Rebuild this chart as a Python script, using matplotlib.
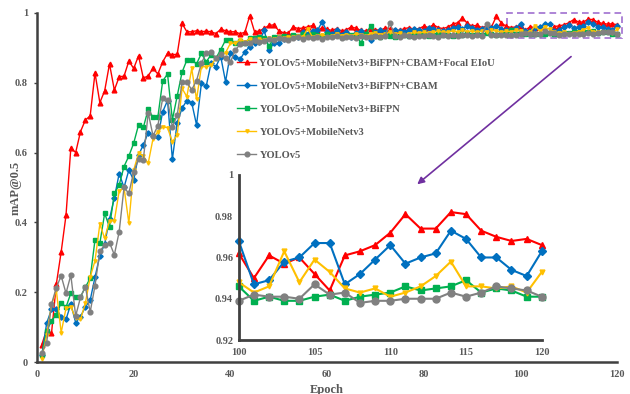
import numpy as np
from matplotlib import pyplot as plt
from matplotlib.patches import Rectangle

# -----------------
# Data
# -----------------
epochs = np.arange(1, 121)

labels = ['YOLOv5+MobileNetv3+BiFPN+CBAM+Focal EIoU',
          'YOLOv5+MobileNetv3+BiFPN+CBAM',
          'YOLOv5+MobileNetv3+BiFPN',
          'YOLOv5+MobileNetv3',
          'YOLOv5']

map_focal = [0.050, 0.092, 0.082, 0.223, 0.315, 0.420, 0.613, 0.600, 0.660, 0.693,
             0.705, 0.828, 0.743, 0.777, 0.854, 0.779, 0.817, 0.819, 0.862, 0.841,
             0.877, 0.813, 0.820, 0.841, 0.825, 0.860, 0.884, 0.880, 0.882, 0.970,
             0.946, 0.946, 0.949, 0.946, 0.948, 0.946, 0.941, 0.953, 0.949, 0.946,
             0.946, 0.940, 0.945, 0.992, 0.946, 0.948, 0.956, 0.964, 0.966, 0.949,
             0.943, 0.943, 0.960, 0.955, 0.957, 0.960, 0.964, 0.950, 0.958, 0.953,
             0.950, 0.955, 0.948, 0.952, 0.960, 0.956, 0.950, 0.948, 0.955, 0.952,
             0.950, 0.957, 0.955, 0.952, 0.950, 0.955, 0.958, 0.953, 0.955, 0.962,
             0.958, 0.966, 0.958, 0.955, 0.960, 0.968, 0.972, 0.986, 0.970, 0.962,
             0.965, 0.958, 0.962, 0.960, 0.990, 0.972, 0.962, 0.958, 0.960, 0.962,
             0.950, 0.961, 0.957, 0.960, 0.952, 0.944, 0.961, 0.963, 0.966, 0.972,
             0.981, 0.974, 0.974, 0.982, 0.981, 0.973, 0.970, 0.968, 0.969, 0.966]

map_cbam = [0.020, 0.111, 0.151, 0.152, 0.130, 0.122, 0.166, 0.113, 0.130, 0.158,
            0.177, 0.243, 0.305, 0.338, 0.410, 0.470, 0.540, 0.500, 0.550, 0.521,
            0.593, 0.622, 0.657, 0.646, 0.644, 0.717, 0.749, 0.581, 0.686, 0.727,
            0.749, 0.743, 0.679, 0.798, 0.790, 0.856, 0.846, 0.875, 0.803, 0.884,
            0.875, 0.867, 0.889, 0.903, 0.913, 0.918, 0.950, 0.895, 0.913, 0.915,
            0.925, 0.930, 0.935, 0.932, 0.945, 0.940, 0.948, 0.950, 0.975, 0.945,
            0.940, 0.950, 0.938, 0.945, 0.930, 0.942, 0.948, 0.938, 0.922, 0.945,
            0.950, 0.946, 0.940, 0.952, 0.948, 0.944, 0.950, 0.955, 0.952, 0.948,
            0.958, 0.955, 0.950, 0.948, 0.952, 0.958, 0.960, 0.955, 0.962, 0.958,
            0.952, 0.955, 0.960, 0.958, 0.962, 0.955, 0.950, 0.952, 0.958, 0.968,
            0.947, 0.949, 0.958, 0.960, 0.967, 0.967, 0.947, 0.952, 0.959, 0.966,
            0.957, 0.960, 0.962, 0.973, 0.969, 0.960, 0.960, 0.954, 0.951, 0.963]

map_bifpn = [0.020, 0.089, 0.118, 0.135, 0.170, 0.157, 0.197, 0.187, 0.187, 0.214,
             0.240, 0.350, 0.340, 0.426, 0.386, 0.483, 0.507, 0.560, 0.590, 0.627,
             0.679, 0.672, 0.724, 0.701, 0.702, 0.805, 0.825, 0.694, 0.762, 0.830,
             0.865, 0.865, 0.854, 0.884, 0.860, 0.880, 0.870, 0.895, 0.922, 0.922,
             0.915, 0.920, 0.915, 0.927, 0.928, 0.930, 0.928, 0.905, 0.930, 0.932,
             0.935, 0.930, 0.938, 0.935, 0.940, 0.935, 0.940, 0.938, 0.935, 0.940,
             0.935, 0.938, 0.932, 0.935, 0.938, 0.935, 0.915, 0.940, 0.962, 0.935,
             0.932, 0.938, 0.935, 0.932, 0.936, 0.938, 0.935, 0.940, 0.936, 0.938,
             0.935, 0.938, 0.940, 0.936, 0.938, 0.935, 0.940, 0.938, 0.942, 0.938,
             0.940, 0.938, 0.942, 0.940, 0.938, 0.940, 0.942, 0.950, 0.940, 0.946,
             0.939, 0.941, 0.939, 0.939, 0.941, 0.942, 0.939, 0.941, 0.942, 0.943,
             0.946, 0.944, 0.945, 0.946, 0.949, 0.943, 0.945, 0.944, 0.941, 0.941]

map_mobilenet = [0.010, 0.077, 0.163, 0.206, 0.084, 0.154, 0.158, 0.125, 0.122, 0.168,
                 0.243, 0.290, 0.395, 0.354, 0.405, 0.405, 0.490, 0.500, 0.398, 0.550,
                 0.598, 0.590, 0.569, 0.640, 0.660, 0.674, 0.671, 0.631, 0.650, 0.784,
                 0.760, 0.841, 0.752, 0.846, 0.846, 0.850, 0.870, 0.880, 0.886, 0.913,
                 0.913, 0.923, 0.918, 0.925, 0.920, 0.925, 0.922, 0.928, 0.925, 0.930,
                 0.928, 0.932, 0.930, 0.935, 0.932, 0.955, 0.930, 0.935, 0.938, 0.932,
                 0.935, 0.940, 0.935, 0.938, 0.935, 0.940, 0.938, 0.935, 0.940, 0.942,
                 0.938, 0.940, 0.945, 0.940, 0.942, 0.938, 0.940, 0.944, 0.942, 0.945,
                 0.942, 0.945, 0.948, 0.944, 0.946, 0.948, 0.945, 0.950, 0.946, 0.948,
                 0.945, 0.948, 0.946, 0.950, 0.948, 0.945, 0.948, 0.946, 0.950, 0.948,
                 0.943, 0.946, 0.963, 0.948, 0.959, 0.953, 0.945, 0.943, 0.945, 0.941,
                 0.943, 0.946, 0.951, 0.958, 0.946, 0.946, 0.945, 0.946, 0.943, 0.953]

map_yolov5 = [0.027, 0.055, 0.166, 0.213, 0.247, 0.197, 0.249, 0.132, 0.185, 0.216,
              0.143, 0.219, 0.318, 0.335, 0.342, 0.307, 0.373, 0.500, 0.483, 0.545,
              0.581, 0.579, 0.714, 0.648, 0.677, 0.756, 0.750, 0.674, 0.707, 0.801,
              0.801, 0.780, 0.806, 0.856, 0.884, 0.889, 0.870, 0.881, 0.871, 0.859,
              0.893, 0.910, 0.913, 0.915, 0.923, 0.918, 0.920, 0.925, 0.922, 0.928,
              0.925, 0.922, 0.928, 0.930, 0.926, 0.932, 0.928, 0.930, 0.925, 0.932,
              0.930, 0.935, 0.928, 0.932, 0.930, 0.927, 0.935, 0.932, 0.930, 0.935,
              0.932, 0.934, 0.971, 0.935, 0.932, 0.936, 0.934, 0.932, 0.935, 0.933,
              0.936, 0.934, 0.932, 0.936, 0.935, 0.938, 0.934, 0.936, 0.938, 0.935,
              0.937, 0.935, 0.968, 0.938, 0.936, 0.938, 0.936, 0.938, 0.937, 0.939,
              0.942, 0.941, 0.941, 0.940, 0.947, 0.942, 0.943, 0.938, 0.939, 0.939,
              0.940, 0.940, 0.940, 0.943, 0.941, 0.943, 0.946, 0.945, 0.944, 0.941]

series = [map_focal, map_cbam, map_bifpn, map_mobilenet, map_yolov5]
colors = ['#FF0000', '#0070C0', '#00B050', '#FFC000', '#808080']
markers = ['^', 'D', 's', 'v', 'o']
marker_scale = [1.0, 0.8, 1.0, 0.7, 1.0]

main_xticks = [0, 20, 40, 60, 80, 100, 120]
main_yticks = [0, 0.2, 0.4, 0.6, 0.8, 1]
inset_xticks = [100, 105, 110, 115, 120]
inset_yticks = [0.92, 0.94, 0.96, 0.98, 1]

TEXT_COLOR = '#595959'
AXIS_COLOR = '#404040'
FONT = 'Liberation Serif'


def tick_label(value):
    return '{:g}'.format(value)


def style_axes(ax, xticks, yticks, spine_width):
    for side in ['top', 'right']:
        ax.spines[side].set_visible(False)
    for side in ['left', 'bottom']:
        ax.spines[side].set_color(AXIS_COLOR)
        ax.spines[side].set_linewidth(spine_width)
    ax.set_xticks(xticks)
    ax.set_yticks(yticks)
    ax.set_xticklabels([tick_label(t) for t in xticks])
    ax.set_yticklabels([tick_label(t) for t in yticks])
    ax.tick_params(axis='both', length=2.5, width=1, color=AXIS_COLOR, pad=4)
    ax.tick_params(axis='x', length=0, pad=6)
    for label in ax.get_xticklabels() + ax.get_yticklabels():
        label.set_fontfamily(FONT)
        label.set_fontweight('bold')
        label.set_fontsize(7.5)
        label.set_color(TEXT_COLOR)


fig = plt.figure(figsize=(6.3, 3.94), dpi=100)
ax = fig.add_axes([0.0587, 0.0812, 0.921, 0.886])

for values, color, marker, scale, label in zip(series, colors, markers, marker_scale, labels):
    ax.plot(epochs, values, color=color, marker=marker, markersize=3.4 * scale,
            linewidth=1.0, label=label, clip_on=False)

ax.set_xlim(0, 120)
ax.set_ylim(0, 1)
style_axes(ax, main_xticks, main_yticks, 1.8)
ax.set_xlabel('Epoch', fontfamily=FONT, fontweight='bold', fontsize=9, color=TEXT_COLOR, labelpad=3)
ax.set_ylabel('mAP@0.5', fontfamily=FONT, fontweight='bold', fontsize=9, color=TEXT_COLOR)
ax.yaxis.set_label_coords(-0.027, 0.5)

legend = ax.legend(loc='upper left', bbox_to_anchor=(0.336, 0.885), frameon=False,
                   borderpad=0, handlelength=1.8, handletextpad=0.3, labelspacing=1.3,
                   prop={'family': FONT, 'weight': 'bold', 'size': 7.6})
for text in legend.get_texts():
    text.set_color(TEXT_COLOR)

# zoom box and arrow
ax.add_patch(Rectangle((97.3, 0.928), 23.7, 0.072, fill=False, edgecolor='#A070D0',
                       linestyle=(0, (4, 2.5)), linewidth=1.2, clip_on=False))
ax.annotate('', xy=(78.2, 0.504), xytext=(110.9, 0.88),
            arrowprops=dict(arrowstyle='-|>', color='#7030A0', lw=1.2, mutation_scale=10))

# -----------------
# Inset
# -----------------
inset = fig.add_axes([0.379, 0.137, 0.481, 0.419])
inset.patch.set_alpha(0)
tail = epochs >= 100
for values, color, marker, scale in zip(series, colors, markers, marker_scale):
    inset.plot(epochs[tail], np.asarray(values)[tail], color=color, marker=marker,
               markersize=5 * scale, linewidth=1.5, clip_on=False)

inset.set_xlim(100, 120)
inset.set_ylim(0.92, 1)
style_axes(inset, inset_xticks, inset_yticks, 2.0)
inset.tick_params(axis='y', length=0)

fig.savefig('out.png', dpi=100)
